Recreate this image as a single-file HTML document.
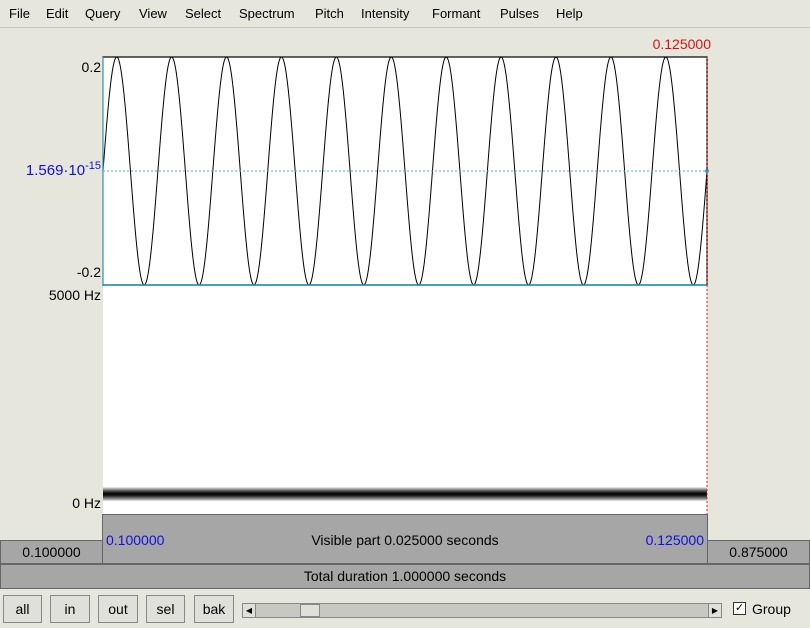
<!DOCTYPE html>
<html><head><meta charset="utf-8"><style>
body{margin:0;width:810px;height:628px;background:#e6e6dc;font-family:"Liberation Sans","DejaVu Sans",sans-serif;position:relative;overflow:hidden}
.menu{position:absolute;left:0;top:0;width:810px;height:27px;background:#e6e6dc;border-bottom:1px solid #c8c8c0;font-size:13px}
.menu span{position:absolute;top:6px}
.box{position:absolute;background:#a6a6a6;border:1px solid #666;box-sizing:border-box;font-size:14px;text-align:center}
.btn{position:absolute;top:595px;height:28px;background:#e0e0da;border:1px solid #888;box-sizing:border-box;font-size:14px;text-align:center;line-height:26px}
.lbl{position:absolute;font-size:14px;text-align:right}
</style></head><body>
<div class="menu">
<span style="left:9px">File</span>
<span style="left:46px">Edit</span>
<span style="left:85px">Query</span>
<span style="left:139px">View</span>
<span style="left:185px">Select</span>
<span style="left:239px">Spectrum</span>
<span style="left:315px">Pitch</span>
<span style="left:361px">Intensity</span>
<span style="left:432px">Formant</span>
<span style="left:500px">Pulses</span>
<span style="left:556px">Help</span>
</div>
<div class="lbl" style="left:40px;top:59px;width:61px">0.2</div>
<div class="lbl" style="left:0;top:160px;width:101px;color:#1010e0;font-size:15px">1.569·10<sup style="font-size:11px">-15</sup></div>
<div class="lbl" style="left:40px;top:264px;width:61px">-0.2</div>
<div class="lbl" style="left:0;top:287px;width:101px">5000 Hz</div>
<div class="lbl" style="left:0;top:495px;width:101px">0 Hz</div>
<div class="lbl" style="left:640px;top:36px;width:71px;color:#e01010">0.125000</div>
<svg style="position:absolute;left:0;top:0" width="810" height="628">
<rect x="103" y="57" width="604" height="457" fill="#fff"/>
<g id="spec"></g>
<path id="wave" fill="none" stroke="#000" stroke-width="1"/>
<rect x="103" y="57" width="604" height="228" fill="none" stroke="#000" stroke-width="1.2"/>
<line x1="103" y1="57" x2="103" y2="285" stroke="#30b0e0"/>
<line x1="103" y1="285" x2="707" y2="285" stroke="#2090b0" stroke-width="1.5"/>
<line x1="103" y1="171" x2="707" y2="171" stroke="#40b0e0" stroke-dasharray="2,2"/>
<circle cx="707" cy="171" r="2" fill="#30a0e0"/>
<line x1="707" y1="57" x2="707" y2="514" stroke="#e02020" stroke-dasharray="2,2"/>
</svg>
<div class="box" style="left:102px;top:514px;width:606px;height:50px">
<span style="position:absolute;left:3px;top:17px;color:#1010e0">0.100000</span>
<span style="position:absolute;left:0;width:100%;top:17px">Visible part 0.025000 seconds</span>
<span style="position:absolute;right:3px;top:17px;color:#1010e0">0.125000</span></div>
<div class="box" style="left:0;top:540px;width:103px;height:24px;line-height:22px">0.100000</div>
<div class="box" style="left:707px;top:540px;width:103px;height:24px;line-height:22px">0.875000</div>
<div class="box" style="left:0;top:564px;width:810px;height:25px;line-height:23px">Total duration 1.000000 seconds</div>
<div class="btn" style="left:3px;width:39px">all</div>
<div class="btn" style="left:50px;width:40px">in</div>
<div class="btn" style="left:98px;width:40px">out</div>
<div class="btn" style="left:146px;width:39px">sel</div>
<div class="btn" style="left:194px;width:40px">bak</div>
<div style="position:absolute;left:242px;top:603px;width:480px;height:15px;background:#c8c8c2;border:1px solid #888;box-sizing:border-box">
<div style="position:absolute;left:0;top:0;width:12px;height:13px;background:#e0e0da;border-right:1px solid #888;font-size:8px;line-height:13px;text-align:center">◀</div>
<div style="position:absolute;left:57px;top:0;width:20px;height:13px;background:#e0e0da;border:1px solid #888;box-sizing:border-box"></div>
<div style="position:absolute;right:0;top:0;width:12px;height:13px;background:#e0e0da;border-left:1px solid #888;font-size:8px;line-height:13px;text-align:center">▶</div></div>
<div style="position:absolute;left:733px;top:602px;width:13px;height:13px;background:#fff;border:1px solid #333;box-sizing:border-box;font-size:11px;line-height:11px;text-align:center">✓</div>
<div style="position:absolute;left:752px;top:601px;font-size:14px">Group</div>
<script>
const timeRange=[0.100,0.125];
const ampRange=[-0.2,0.2];
const toneFreq=[440];
const toneAmp=[0.2];
const freqRange=[0,5000];
const bandFreq=[440];
const bandWidth=[320];
const X=t=>103+(t-timeRange[0])/(timeRange[1]-timeRange[0])*604;
const Y=a=>285-(a-ampRange[0])/(ampRange[1]-ampRange[0])*228;
const F=f=>514-(f-freqRange[0])/(freqRange[1]-freqRange[0])*229;
let d='';
for(let i=0;i<=1200;i++){const t=timeRange[0]+(timeRange[1]-timeRange[0])*i/1200;
 const a=toneAmp[0]*Math.sin(2*Math.PI*toneFreq[0]*t);
 d+=(i?'L':'M')+X(t).toFixed(2)+' '+Y(a).toFixed(2);}
document.getElementById('wave').setAttribute('d',d);
const g=document.getElementById('spec');
for(let k=-8;k<=8;k++){const f=bandFreq[0]+k*bandWidth[0]/16;
 const r=document.createElementNS('http://www.w3.org/2000/svg','rect');
 
 
 const v=Math.round(255*Math.min(1,Math.abs(k)/8)**1.3);
 r.setAttribute('x',103);r.setAttribute('width',604);
 r.setAttribute('y',F(f)-0.6);r.setAttribute('height',1.3);
 r.setAttribute('fill',`rgb(${v},${v},${v})`);g.appendChild(r);}
</script>
</body></html>
